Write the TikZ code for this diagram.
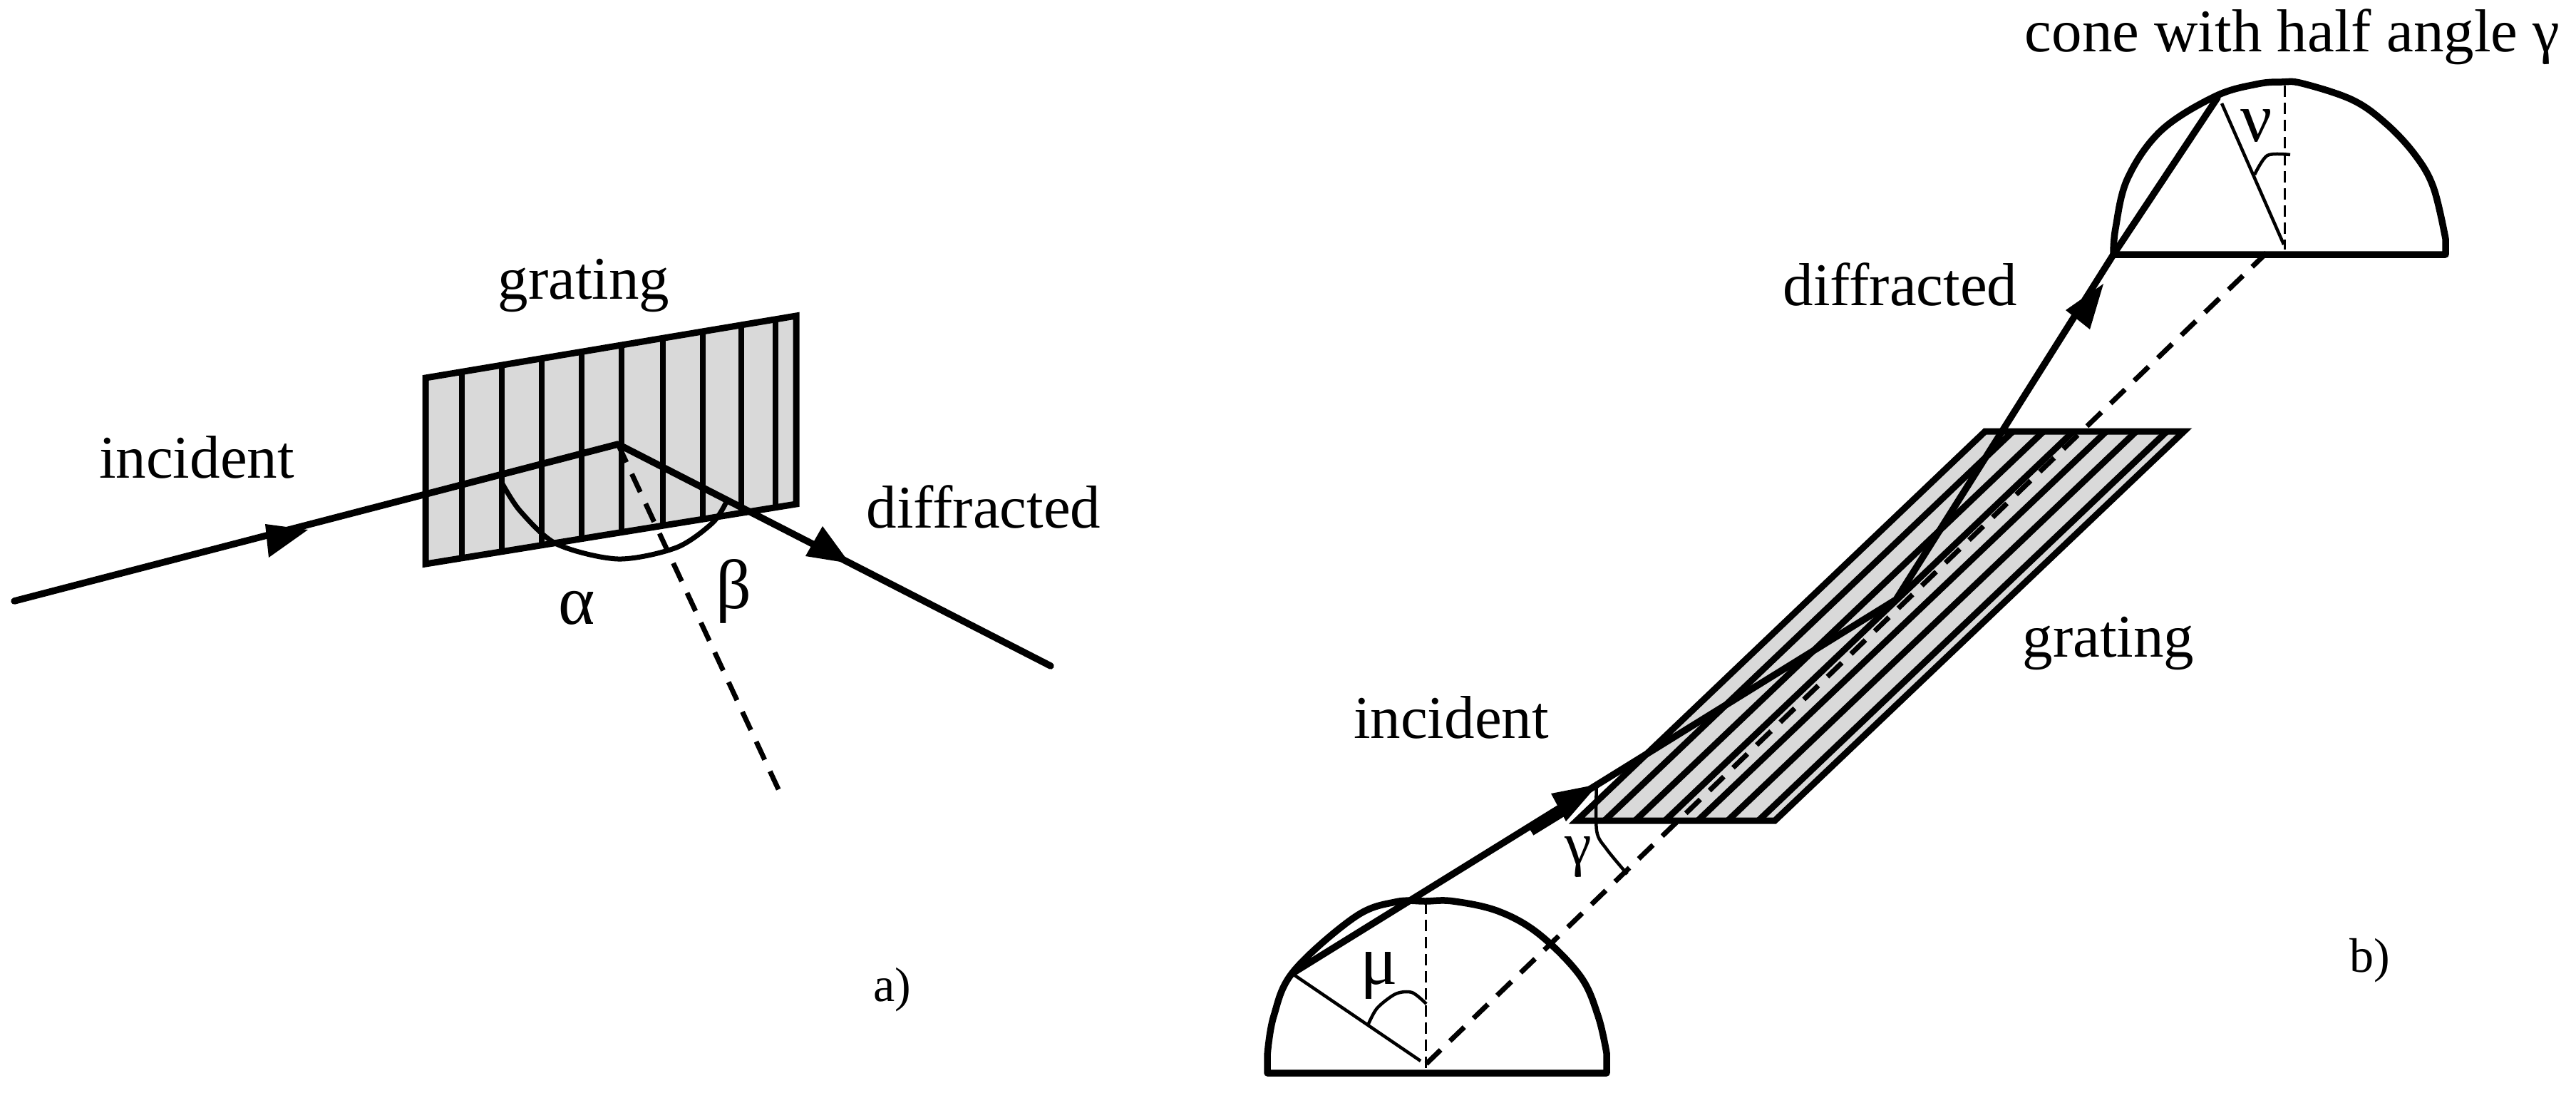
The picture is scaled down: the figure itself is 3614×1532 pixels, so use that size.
\documentclass[tikz,border=0pt]{standalone}
\usepackage{fontspec}
\usetikzlibrary{calc}
\setmainfont{Liberation Serif}
\tikzset{
  lbl/.style={anchor=base,inner sep=0pt,outer sep=0pt,font=\fontsize{85}{90}\selectfont},
  smalllbl/.style={anchor=base,inner sep=0pt,outer sep=0pt,font=\fontsize{68}{72}\selectfont},
  greeklbl/.style={anchor=base,inner sep=0pt,outer sep=0pt,font=\fontsize{98}{100}\selectfont},
  thick line/.style={line width=9.5pt,line cap=round,line join=round},
  grate/.style={line width=9pt,line join=miter},
  thin line/.style={line width=4.5pt},
  axisdash/.style={line width=7pt,dash pattern=on 28pt off 18pt},
  centredash/.style={line width=3pt,dash pattern=on 16pt off 8pt},
  head/.style={fill=black,draw=none},
  gratefill/.style={fill=black!15}
}
\begin{document}
\begin{tikzpicture}[x=1pt,y=-1pt]
\useasboundingbox (0,0) rectangle (3614,1532);
\fill[white] (0,0) rectangle (3614,1532);
% ---------- part a
\coordinate (aTL) at (597,530);
\coordinate (aTR) at (1117,443);
\coordinate (aBR) at (1117,707);
\coordinate (aBL) at (597,791);
\coordinate (aApex) at (867,623);
\coordinate (aIn) at (20,843);
\coordinate (aOut) at (1474,934);
\coordinate (aNorm) at (1099,1122);
\fill[gratefill] (aTL) -- (aTR) -- (aBR) -- (aBL) -- cycle;
\foreach \f in {0.098,0.206,0.314,0.421,0.529,0.640,0.748,0.852,0.944}
  \draw[line width=8pt] ($(aTL)!\f!(aTR)$) -- ($(aBL)!\f!(aBR)$);
\draw[grate] (aTL) -- (aTR) -- (aBR) -- (aBL) -- cycle;
\draw[axisdash] (aApex) -- (aNorm);
\draw[thick line] (aIn) -- (aApex) -- (aOut);
\fill[head] (432,743) -- (372,735) -- (377,782) -- cycle;
\fill[head] (1192,790) -- (1154,738) -- (1130,780) -- cycle;
\draw[line width=7pt] plot[smooth] coordinates {(704,677) (730,717) (781,763) (867,784) (949,768) (1000,733) (1020,702)};
\node[lbl] (tGratingA) at (819,419) {grating};
\node[lbl] (tIncidentA) at (276,670) {incident};
\node[lbl] (tDiffA) at (1380,740) {diffracted};
\node[greeklbl] (tAlpha) at (809,875) {α};
\node[greeklbl] (tBeta) at (1029,853) {β};
\node[smalllbl] (tA) at (1252,1404) {a)};
% ---------- part b
\coordinate (bTL) at (2785,605);
\coordinate (bTR) at (3064,605);
\coordinate (bBR) at (2490,1151);
\coordinate (bBL) at (2212,1151);
\coordinate (lowC) at (2000,1503);
\coordinate (axisA) at (2001,1492);
\coordinate (axisB) at (3192,343);
\coordinate (inS) at (1815,1364);
\coordinate (bApex) at (2660,841);
\coordinate (outE) at (2965,357);
\fill[gratefill] (bTL) -- (bTR) -- (bBR) -- (bBL) -- cycle;
\foreach \x in {2251,2294,2336,2382,2424,2467}
  \draw[line width=9pt] (\x,1151) -- (\x+573,605);
\draw[grate] (bTL) -- (bTR) -- (bBR) -- (bBL) -- cycle;
\draw[axisdash] (axisA) -- (axisB);
\draw[thick line] (inS) -- (bApex) -- (outE);
\draw[line width=13pt] (2148,1166) -- (2205,1131);
\fill[head] (2242,1100) -- (2176,1113) -- (2197,1152) -- cycle;
\fill[head] (2951,398) -- (2898,435) -- (2932,462) -- cycle;
% lower cone
\draw[thick line] (1778,1505) -- (2254,1505) -- plot[smooth,tension=0.6] coordinates {(2254,1477) (2242,1425) (2217,1369) (2159,1310) (2102,1278) (2039,1264) (2000,1264) (1958,1265) (1901,1286) (1815,1362) (1787,1425) (1778,1480)} -- cycle;
\draw[centredash] (2000,1266) -- (lowC);
\draw[thin line] (1815,1367) -- (1993,1488);
\draw[thin line] plot[smooth] coordinates {(1919,1438) (1932,1414) (1958,1394) (1981,1392) (2001,1408)};
% upper cone
\draw[thick line] (2965,357) -- (3431,357) -- plot[smooth,tension=0.6] coordinates {(3431,335) (3414,263) (3388,217) (3347,173) (3300,140) (3230,117) (3201,115) (3166,118) (3108,135) (3032,183) (2985,250) (2968,320) (2965,357)} -- cycle;
\draw[thick line] (outE) -- (3111,137);
\draw[thin line] (3117,145) -- (3204,343);
\draw[centredash] (3205,120) -- (3205,350);
\draw[thin line] plot[smooth] coordinates {(3163,245) (3181,218) (3213,217)};
% gamma arc
\draw[thin line] plot[smooth] coordinates {(2240,1097) (2240,1165) (2254,1191) (2283,1226)};
\node[lbl] (tCone) at (3216,72) {cone with half angle γ};
\node[lbl] (tDiffB) at (2666,428) {diffracted};
\node[lbl] (tGratingB) at (2958,921) {grating};
\node[lbl] (tIncidentB) at (2036,1035) {incident};
\node[lbl] (tGamma) at (2214,1212) {γ};
\node[greeklbl] (tMu) at (1935,1380) {μ};
\node[greeklbl] (tNu) at (3166,198) {ν};
\node[smalllbl] (tB) at (3325,1363) {b)};
\end{tikzpicture}
\end{document}
